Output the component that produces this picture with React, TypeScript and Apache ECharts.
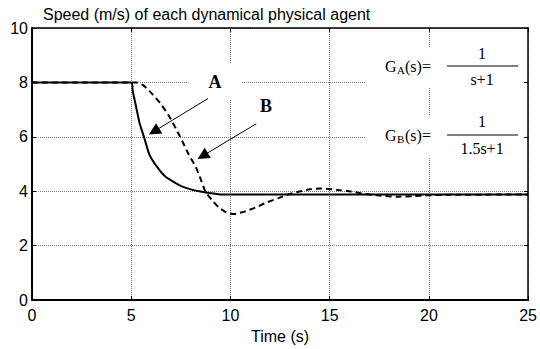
import React, { useEffect, useRef } from "react";
import * as echarts from "echarts";

const timeA = [0, 5, 5.08, 5.25, 5.42, 5.67, 5.92, 6.33, 6.75, 7.2, 7.58, 8.0, 8.42, 9.0, 9.58, 25];
const speedA = [8, 8, 7.67, 7.09, 6.51, 5.93, 5.34, 4.87, 4.52, 4.32, 4.17, 4.07, 4.0, 3.93, 3.88, 3.88];

const timeB = [0, 5.25, 5.6, 6.08, 6.5, 6.92, 7.25, 7.58, 7.9, 8.25, 8.5, 8.75, 9.1, 9.42, 9.75, 10.15, 10.6, 11.25, 11.8, 12.42, 12.9, 13.42, 14.0, 14.6, 15.4, 16.08, 16.8, 17.42, 18.42, 19.2, 19.92, 20.92, 25];
const speedB = [8, 8, 7.9, 7.56, 7.2, 6.75, 6.3, 5.83, 5.35, 4.9, 4.45, 3.97, 3.65, 3.4, 3.24, 3.16, 3.23, 3.4, 3.58, 3.75, 3.88, 3.98, 4.07, 4.1, 4.05, 3.99, 3.9, 3.85, 3.8, 3.82, 3.85, 3.87, 3.88];

const arrowA = [[8.87, 7.41], [6.15, 6.2]];
const arrowB = [[11.3, 6.48], [8.6, 5.3]];

const titleText = "Speed (m/s) of each dynamical physical agent";
const xName = "Time (s)";

export default function App() {
  const ref = useRef<HTMLDivElement>(null);
  useEffect(() => {
    if (!ref.current) return;
    const chart = echarts.init(ref.current, undefined, { renderer: "svg" });
    const sans = "Liberation Sans, Arial, sans-serif";
    const serif = "Liberation Serif, Times New Roman, serif";
    const dataA = timeA.map((t, i) => [t, speedA[i]]);
    const dataB = timeB.map((t, i) => [t, speedB[i]]);
    const mainLine = { show: true, onZero: false, lineStyle: { color: "#000", width: 2 } };
    const sideLine = { show: true, onZero: false, lineStyle: { color: "#000", width: 1.5 } };
    const tick = { show: true, inside: true, length: 4, lineStyle: { color: "#000" } };
    const grid = { show: true, lineStyle: { color: "#777", type: [1, 1], width: 1 } };
    chart.setOption({
      animation: false,
      backgroundColor: "#fff",
      title: {
        text: titleText,
        left: 38,
        top: 1,
        textStyle: { fontFamily: sans, fontSize: 16, fontWeight: "normal", color: "#000" },
      },
      grid: { left: 32, right: 10, top: 28, bottom: 36 },
      xAxis: [
        {
          type: "value",
          min: 0,
          max: 25,
          interval: 5,
          name: xName,
          nameLocation: "middle",
          nameGap: 18,
          nameTextStyle: { fontFamily: sans, fontSize: 16, color: "#000" },
          axisLine: mainLine,
          axisTick: tick,
          axisLabel: { fontFamily: sans, fontSize: 16, color: "#000", margin: 7 },
          splitLine: grid,
        },
        {
          type: "value",
          position: "top",
          min: 0,
          max: 25,
          interval: 5,
          axisLine: sideLine,
          axisTick: tick,
          axisLabel: { show: false },
          splitLine: { show: false },
        },
      ],
      yAxis: [
        {
          type: "value",
          min: 0,
          max: 10,
          interval: 2,
          axisLine: mainLine,
          axisTick: tick,
          axisLabel: { fontFamily: sans, fontSize: 16, color: "#000", margin: 4 },
          splitLine: grid,
        },
        {
          type: "value",
          position: "right",
          min: 0,
          max: 10,
          interval: 2,
          axisLine: sideLine,
          axisTick: tick,
          axisLabel: { show: false },
          splitLine: { show: false },
        },
      ],
      series: [
        {
          type: "line",
          name: "A",
          data: dataA,
          showSymbol: false,
          smooth: 0.2,
          z: 5,
          lineStyle: { color: "#000", width: 2 },
          markLine: {
            silent: true,
            symbol: ["none", "triangle"],
            symbolSize: 12,
            label: { show: false },
            lineStyle: { color: "#000", width: 1, type: "solid" },
            data: [
              [{ coord: arrowA[0] }, { coord: arrowA[1] }],
              [{ coord: arrowB[0] }, { coord: arrowB[1] }],
            ],
          },
        },
        {
          type: "line",
          name: "B",
          data: dataB,
          showSymbol: false,
          smooth: 0.2,
          z: 5,
          lineStyle: { color: "#000", width: 2, type: [6, 4] },
        },
      ],
      graphic: [
        { type: "rect", z: 3, shape: { x: 188, y: 63, width: 54, height: 37 }, style: { fill: "#fff" } },
        { type: "rect", z: 3, shape: { x: 365, y: 47, width: 159, height: 41 }, style: { fill: "#fff" } },
        { type: "rect", z: 3, shape: { x: 365, y: 115, width: 159, height: 42 }, style: { fill: "#fff" } },
        { type: "text", z: 4, x: 215, y: 82, style: { text: "A", font: `bold 18px ${serif}`, fill: "#000", align: "center", verticalAlign: "middle" } },
        { type: "text", z: 4, x: 266, y: 106, style: { text: "B", font: `bold 18px ${serif}`, fill: "#000", align: "center", verticalAlign: "middle" } },
        { type: "text", z: 4, x: 385, y: 66, style: { text: "G", font: `16px ${serif}`, fill: "#000", align: "left", verticalAlign: "middle" } },
        { type: "text", z: 4, x: 397, y: 70, style: { text: "A", font: `11px ${serif}`, fill: "#000", align: "left", verticalAlign: "middle" } },
        { type: "text", z: 4, x: 405, y: 66, style: { text: "(s)=", font: `16px ${serif}`, fill: "#000", align: "left", verticalAlign: "middle" } },
        { type: "text", z: 4, x: 482, y: 53, style: { text: "1", font: `16px ${serif}`, fill: "#000", align: "center", verticalAlign: "middle" } },
        { type: "line", z: 4, shape: { x1: 447, y1: 66, x2: 518, y2: 66 }, style: { stroke: "#000", lineWidth: 1.2 } },
        { type: "text", z: 4, x: 482, y: 79, style: { text: "s+1", font: `16px ${serif}`, fill: "#000", align: "center", verticalAlign: "middle" } },
        { type: "text", z: 4, x: 385, y: 135, style: { text: "G", font: `16px ${serif}`, fill: "#000", align: "left", verticalAlign: "middle" } },
        { type: "text", z: 4, x: 397, y: 139, style: { text: "B", font: `11px ${serif}`, fill: "#000", align: "left", verticalAlign: "middle" } },
        { type: "text", z: 4, x: 405, y: 135, style: { text: "(s)=", font: `16px ${serif}`, fill: "#000", align: "left", verticalAlign: "middle" } },
        { type: "text", z: 4, x: 482, y: 121, style: { text: "1", font: `16px ${serif}`, fill: "#000", align: "center", verticalAlign: "middle" } },
        { type: "line", z: 4, shape: { x1: 447, y1: 135, x2: 518, y2: 135 }, style: { stroke: "#000", lineWidth: 1.2 } },
        { type: "text", z: 4, x: 482, y: 148, style: { text: "1.5s+1", font: `16px ${serif}`, fill: "#000", align: "center", verticalAlign: "middle" } },
      ],
    });
    return () => chart.dispose();
  }, []);
  return <div ref={ref} style={{ width: 540, height: 349, position: "absolute", left: 0, top: 0 }} />;
}
